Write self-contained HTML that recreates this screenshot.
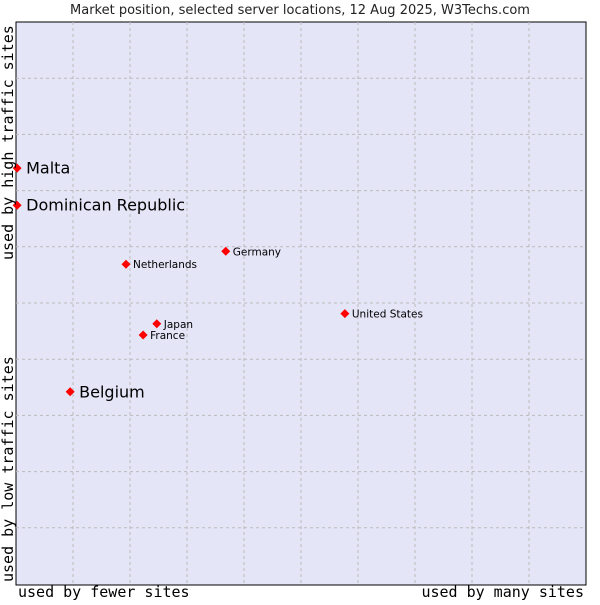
<!DOCTYPE html>
<html><head><meta charset="utf-8"><style>
body{margin:0;background:#fff;width:600px;height:600px;overflow:hidden}
</style></head><body>
<svg width="600" height="600" id="chart">
<text x="300" y="14" text-anchor="middle" font-family="DejaVu Sans, sans-serif" font-size="13" fill="#222">Market position, selected server locations, 12 Aug 2025, W3Techs.com</text>
<rect x="16" y="22" width="570" height="563" fill="#e4e5f7" stroke="#000" stroke-width="1"/>
<g id="grid"></g>
<g id="marks"></g>
<text x="18" y="597" font-family="DejaVu Sans Mono, Liberation Mono, monospace" font-size="15" fill="#000">used by fewer sites</text>
<text x="584" y="597" text-anchor="end" font-family="DejaVu Sans Mono, Liberation Mono, monospace" font-size="15" fill="#000">used by many sites</text>
<text transform="translate(13,582) rotate(-90)" font-family="DejaVu Sans Mono, Liberation Mono, monospace" font-size="15" fill="#000">used by low traffic sites</text>
<text transform="translate(13,260) rotate(-90)" font-family="DejaVu Sans Mono, Liberation Mono, monospace" font-size="15" fill="#000">used by high traffic sites</text>
</svg>
<script>
const countries=["Malta","Dominican Republic","Netherlands","Germany","United States","Japan","France","Belgium"];
const xValues=[0.2,0.2,19.3,36.8,57.7,24.7,22.3,9.5];
const yValues=[74.0,67.4,56.9,59.2,48.1,46.3,44.3,34.2];
const highlighted=[true,true,false,false,false,false,false,true];
const L=16,R=586,T=22,B=584;
const sx=v=>L+v/100*(R-L);
const sy=v=>B-v/100*(B-T);
const NS="http://www.w3.org/2000/svg";
const grid=document.getElementById('grid');
for(let i=1;i<10;i++){
  const v=document.createElementNS(NS,'line');
  const gx=sx(i*10);
  v.setAttribute('x1',gx);v.setAttribute('x2',gx);v.setAttribute('y1',T);v.setAttribute('y2',585);
  v.setAttribute('stroke','#bbb');v.setAttribute('stroke-dasharray','3,3');
  
  
  grid.appendChild(v);
  const h=document.createElementNS(NS,'line');
  const gy=sy(i*10);
  h.setAttribute('x1',L);h.setAttribute('x2',R);h.setAttribute('y1',gy);h.setAttribute('y2',gy);
  h.setAttribute('stroke','#bbb');h.setAttribute('stroke-dasharray','3,3');
  
  
  grid.appendChild(h);
}
const marks=document.getElementById('marks');
countries.forEach((c,i)=>{
  const x=sx(xValues[i]),y=sy(yValues[i]);
  const p=document.createElementNS(NS,'path');
  p.setAttribute('d',`M${x-4.5},${y} L${x},${y-4.5} L${x+4.5},${y} L${x},${y+4.5} Z`);
  p.setAttribute('fill','#f00');
  
  
  marks.appendChild(p);
  const t=document.createElementNS(NS,'text');
  const big=highlighted[i];
  t.setAttribute('x',x+(big?9:7));
  t.setAttribute('y',y+(big?5.5:4));
  t.setAttribute('font-family','DejaVu Sans, sans-serif');
  t.setAttribute('font-size',big?16:10.5);
  t.setAttribute('fill','#000');
  t.textContent=c;
  
  
  marks.appendChild(t);
});
</script>
</body></html>
